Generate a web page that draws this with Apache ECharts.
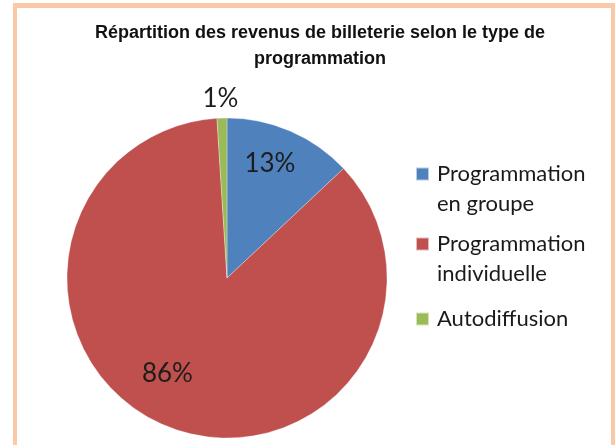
<!DOCTYPE html>
<html>
<head>
<meta charset="utf-8">
<script src="https://cdn.jsdelivr.net/npm/echarts@6/dist/echarts.min.js"></script>
<style>
  body { margin: 0; background: #fff; }
  #frame {
    position: absolute; left: 13px; top: 3px; width: 594px; height: 460px;
    border-left: 4px solid #f9c8a6; border-top: 5px solid #f9c8a6; border-right: 4px solid #f9c8a6;
  }
  #chart { position: absolute; left: 0; top: 0; width: 616px; height: 445px; }
</style>
</head>
<body>
<div id="frame"></div>
<div id="chart"></div>
<script>
// categories and shares (%)
const categories = ['Programmation en groupe', 'Programmation individuelle', 'Autodiffusion']
const legendText = ['Programmation\nen groupe', 'Programmation\nindividuelle', 'Autodiffusion']
const values = [13, 86, 1]
const colors = ['#4f81bd', '#c0504d', '#9bbb59']

// label nudges from the default inside position
const labelOffsets = [[10, -38], [-29, 18], [-4, -96]]
// legend icon centres (y) for each entry
const legendIconY = [174, 244, 319]

const LINE = 30

const chart = echarts.init(document.getElementById('chart'))

// one legend per entry so the square sits on the first text line
const legends = categories.map((name, i) => {
  const lines = legendText[i].split('\n')
  // blank lines on top keep the first line centred on the icon
  const padded = Array(lines.length - 1).fill('').concat(lines).join('\n')
  const boxH = (lines.length * 2 - 1) * LINE
  return {
    orient: 'vertical',
    left: 415,
    top: legendIconY[i] - boxH / 2,
    padding: 0,
    icon: 'rect',
    itemWidth: 13,
    itemHeight: 13,
    selectedMode: false,
    data: [name],
    formatter: () => padded,
    textStyle: {
      fontFamily: 'Lato',
      fontSize: 22,
      lineHeight: LINE,
      color: '#1a1a1a',
      padding: [0, 0, 0, 3]
    }
  }
})

chart.setOption({
  animation: false,
  color: colors,
  title: {
    text: 'Répartition des revenus de billeterie selon le type de\nprogrammation',
    left: 320,
    top: 20,
    padding: 0,
    textAlign: 'center',
    textStyle: {
      fontFamily: 'Liberation Sans',
      fontWeight: 'bold',
      fontSize: 18,
      lineHeight: 26,
      color: '#111'
    }
  },
  legend: legends,
  series: [{
    type: 'pie',
    center: [227, 278],
    radius: 160,
    startAngle: 90,
    clockwise: true,
    silent: true,
    itemStyle: { borderColor: 'rgba(255,255,255,0.6)', borderWidth: 0.5 },
    labelLine: { show: false },
    label: {
      position: 'inside',
      formatter: '{c}%',
      fontFamily: 'Lato',
      fontSize: 26,
      color: '#1d1d1d'
    },
    data: categories.map((name, i) => ({
      name: name,
      value: values[i],
      label: { offset: labelOffsets[i] }
    }))
  }]
})
</script>
</body>
</html>
